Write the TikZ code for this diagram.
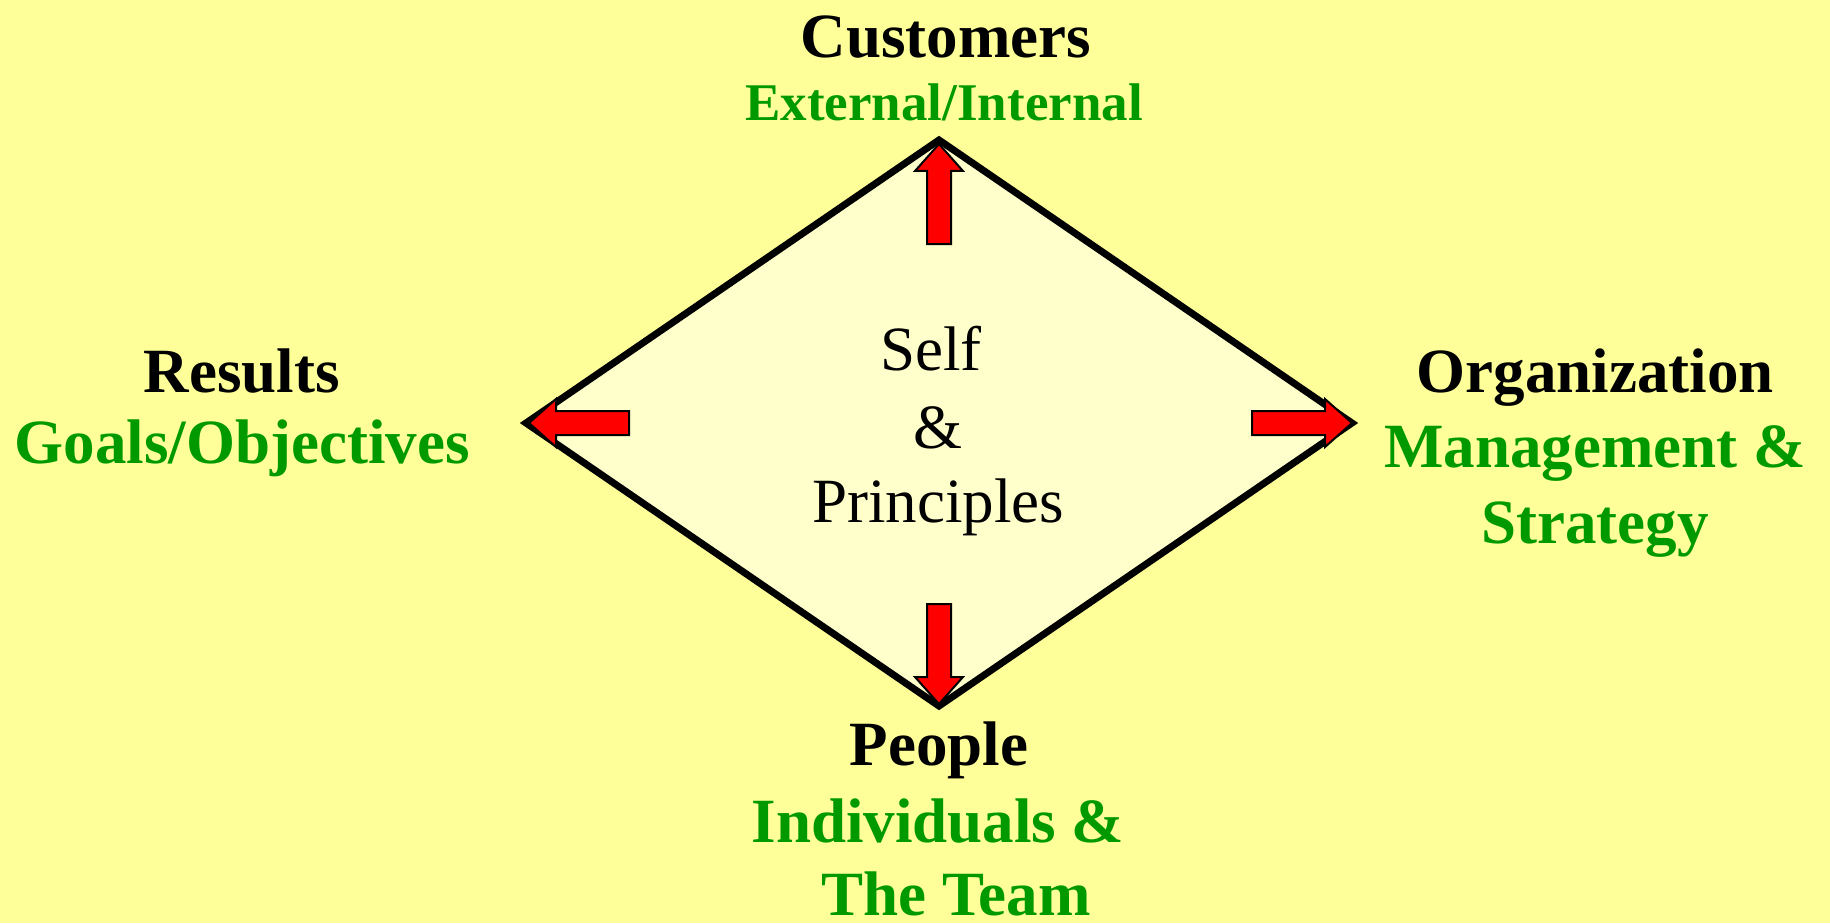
\documentclass[tikz,border=0pt]{standalone}
\usepackage{fontspec}
\setmainfont{Liberation Serif}
\usetikzlibrary{shapes.geometric}
\definecolor{bg}{HTML}{FFFF99}
\definecolor{dfill}{HTML}{FFFFCC}
\definecolor{grn}{HTML}{009900}
\tikzset{
  title/.style={font=\bfseries\fontsize{63bp}{76bp}\selectfont, text=black, anchor=base, inner sep=0pt},
  sub/.style={title, text=grn},
  subsmall/.style={sub, font=\bfseries\fontsize{53bp}{64bp}\selectfont},
  centre/.style={font=\fontsize{63bp}{76bp}\selectfont, text=black, anchor=base, inner sep=0pt},
  redarrow/.pic={\fill[red, draw=black, line width=2bp, line join=miter]
     (0,0) -- (-27,24) -- (-27,12) -- (-100,12) -- (-100,-12) -- (-27,-12) -- (-27,-24) -- cycle;}
}
\begin{document}
\begin{tikzpicture}[x=1bp, y=1bp]
  \fill[bg] (0,0) rectangle (1830,-923);
  \useasboundingbox (0,0) rectangle (1830,-923);

  \node[diamond, draw=black, line width=7bp, fill=dfill, minimum width=826bp,
        minimum height=566bp, inner sep=0pt, outer sep=0pt, aspect=1.46] (dia) at (939,-423) {};

  \pic[rotate=90]  at ([yshift=-4bp]dia.north) {redarrow};
  \pic[rotate=-90] at ([yshift=2bp]dia.south) {redarrow};
  \pic[rotate=180] at ([xshift=3bp]dia.west) {redarrow};
  \pic             at (dia.east) {redarrow};

  \node[centre] (self) at (931,-370) {Self};
  \node[centre] (amp) at (938,-448) {\&};
  \node[centre] (princ) at (938,-522) {Principles};

  \node[title] (cust) at (946,-57) {Customers};
  \node[subsmall] (extint) at (944,-120) {External/Internal};

  \node[title] (res) at (242,-392) {Results};
  \node[sub] (goals) at (242,-463) {Goals/Objectives};

  \node[title] (org) at (1595,-392) {Organization};
  \node[sub] (mgmt) at (1595,-467) {Management \&};
  \node[sub] (strat) at (1595,-543) {Strategy};

  \node[title] (people) at (939,-765) {People};
  \node[sub] (indiv) at (938,-842) {Individuals \&};
  \node[sub] (team) at (956,-915) {The Team};
\end{tikzpicture}
\end{document}
